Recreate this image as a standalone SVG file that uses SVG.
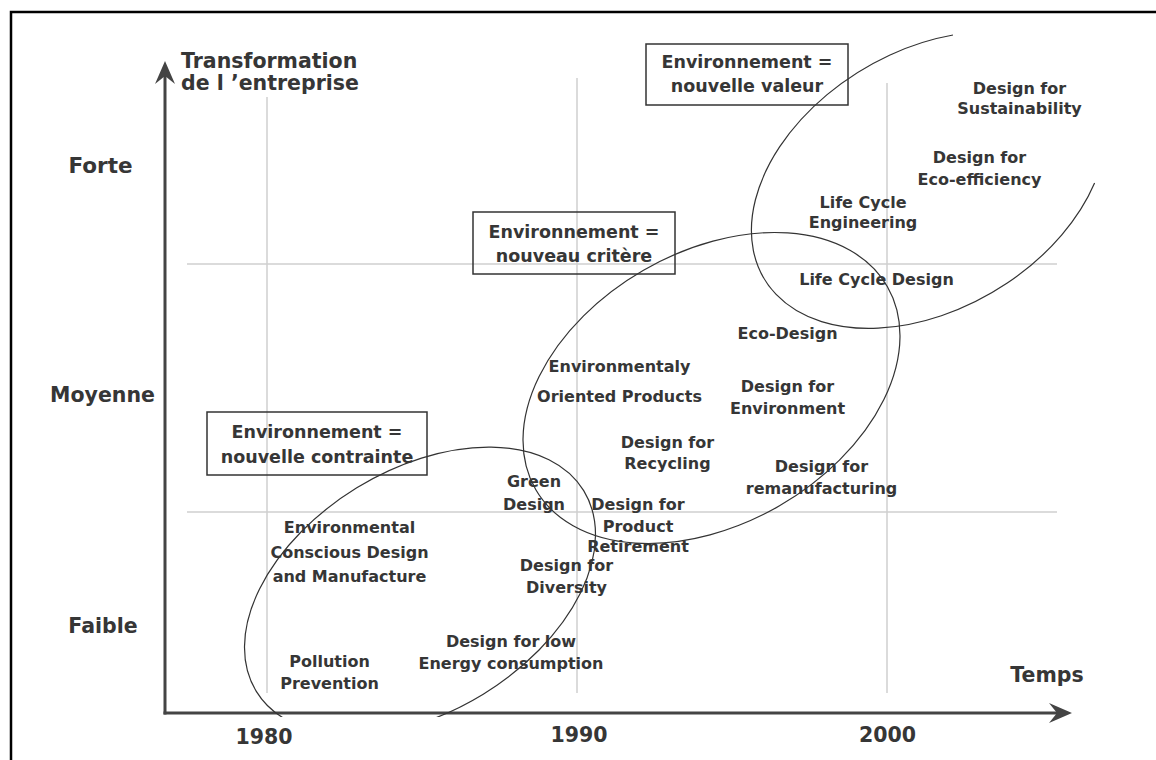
<svg xmlns="http://www.w3.org/2000/svg" width="1156" height="760" viewBox="0 0 1156 760">
<style>
  text { font-family: "DejaVu Sans", Verdana, sans-serif; font-weight: bold; fill: #363636; text-anchor: middle; }
  .lbl { font-size: 16px; }
  .axl { font-size: 20.5px; }
  .box text { font-size: 17.5px; }
  .box rect { fill: none; stroke: #333; stroke-width: 1.5; }
  .grid line { stroke: #cfcfcf; stroke-width: 1.5; }
  .ell { fill: none; stroke: #333; stroke-width: 1.2; }
  .axis { stroke: #444; stroke-width: 3; fill: none; }
</style>
<defs>
  <marker id="arr" markerUnits="userSpaceOnUse" viewBox="-24 -12 26 24" refX="-15" refY="0" markerWidth="26" markerHeight="24" orient="auto">
    <path d="M0,0 L-23,-10 L-15,0 L-23,10 Z" fill="#444"/>
  </marker>
  <clipPath id="clipLow"><rect x="0" y="0" width="1156" height="717"/></clipPath>
</defs>
<rect x="0" y="0" width="1156" height="760" fill="#fff"/>
<path d="M11,760 V12 H1156" fill="none" stroke="#000" stroke-width="2.5"/>

<g id="grid" class="grid">
  <line x1="267" y1="97" x2="267" y2="693"/>
  <line x1="577" y1="78" x2="577" y2="693"/>
  <line x1="887" y1="83" x2="887" y2="693"/>
  <line x1="187" y1="264" x2="1057" y2="264"/>
  <line x1="187" y1="512" x2="1057" y2="512"/>
</g>

<g id="connectors">
  <path class="axis" d="M165,714.5 V76" marker-end="url(#arr)"/>
  <path class="axis" d="M163.5,713 H1057" marker-end="url(#arr)"/>
</g>

<g id="ellipses">
  <g clip-path="url(#clipLow)">
    <ellipse id="ellipse-1980" class="ell" cx="420" cy="591" rx="192" ry="121" transform="rotate(-31.5 420 591)"/>
  </g>
  <ellipse id="ellipse-1990" class="ell" cx="711.5" cy="388" rx="203" ry="136" transform="rotate(-30 711.5 388)"/>
  <path id="ellipse-2000" class="ell" d="M1094.6,183.1 A192,129 -31 1 1 953,35"/>
</g>

<g id="axis-labels" class="axl">
  <text x="181" y="68" style="text-anchor:start">Transformation</text>
  <text x="181" y="90" style="text-anchor:start">de l ’entreprise</text>
  <text x="100.5" y="173" style="font-size:21.5px">Forte</text>
  <text x="102.5" y="401.5">Moyenne</text>
  <text x="103" y="632.5">Faible</text>
  <text x="264" y="744">1980</text>
  <text x="579" y="742">1990</text>
  <text x="887.5" y="742">2000</text>
  <text x="1047" y="682">Temps</text>
</g>

<g id="box-contrainte" class="box">
  <rect x="207" y="412" width="220" height="63"/>
  <text x="317" y="438">Environnement =</text>
  <text x="317" y="463">nouvelle contrainte</text>
</g>
<g id="box-critere" class="box">
  <rect x="473" y="212" width="202" height="62"/>
  <text x="574" y="238">Environnement =</text>
  <text x="574" y="262">nouveau critère</text>
</g>
<g id="box-valeur" class="box">
  <rect x="646" y="44" width="202" height="61"/>
  <text x="747" y="68">Environnement =</text>
  <text x="747" y="92">nouvelle valeur</text>
</g>

<g id="n-pollution" class="lbl"><text x="329.5" y="667">Pollution</text><text x="329.5" y="689">Prevention</text></g>
<g id="n-ecdm" class="lbl"><text x="349.5" y="533">Environmental</text><text x="349.5" y="557.5">Conscious Design</text><text x="349.5" y="581.5">and Manufacture</text></g>
<g id="n-low-energy" class="lbl"><text x="511" y="647">Design for low</text><text x="511" y="669">Energy consumption</text></g>
<g id="n-diversity" class="lbl"><text x="566.5" y="570.5">Design for</text><text x="566.5" y="592.5">Diversity</text></g>
<g id="n-green" class="lbl"><text x="534" y="487">Green</text><text x="534" y="510">Design</text></g>
<g id="n-retirement" class="lbl"><text x="638" y="510">Design for</text><text x="638" y="531.5">Product</text><text x="638" y="552">Retirement</text></g>
<g id="n-eop" class="lbl"><text x="619.5" y="371.5">Environmentaly</text><text x="619.5" y="401.5">Oriented Products</text></g>
<g id="n-recycling" class="lbl"><text x="667.5" y="447.5">Design for</text><text x="667.5" y="469">Recycling</text></g>
<g id="n-reman" class="lbl"><text x="821.5" y="472">Design for</text><text x="821.5" y="494">remanufacturing</text></g>
<g id="n-environment" class="lbl"><text x="787.5" y="391.5">Design for</text><text x="787.5" y="414">Environment</text></g>
<g id="n-ecodesign" class="lbl"><text x="787.5" y="339">Eco-Design</text></g>
<g id="n-lcd" class="lbl"><text x="876.5" y="284.5">Life Cycle Design</text></g>
<g id="n-lce" class="lbl"><text x="863" y="208">Life Cycle</text><text x="863" y="228">Engineering</text></g>
<g id="n-ecoeff" class="lbl"><text x="979.5" y="163">Design for</text><text x="979.5" y="185">Eco-efficiency</text></g>
<g id="n-sustain" class="lbl"><text x="1019.5" y="94">Design for</text><text x="1019.5" y="114">Sustainability</text></g>
</svg>
